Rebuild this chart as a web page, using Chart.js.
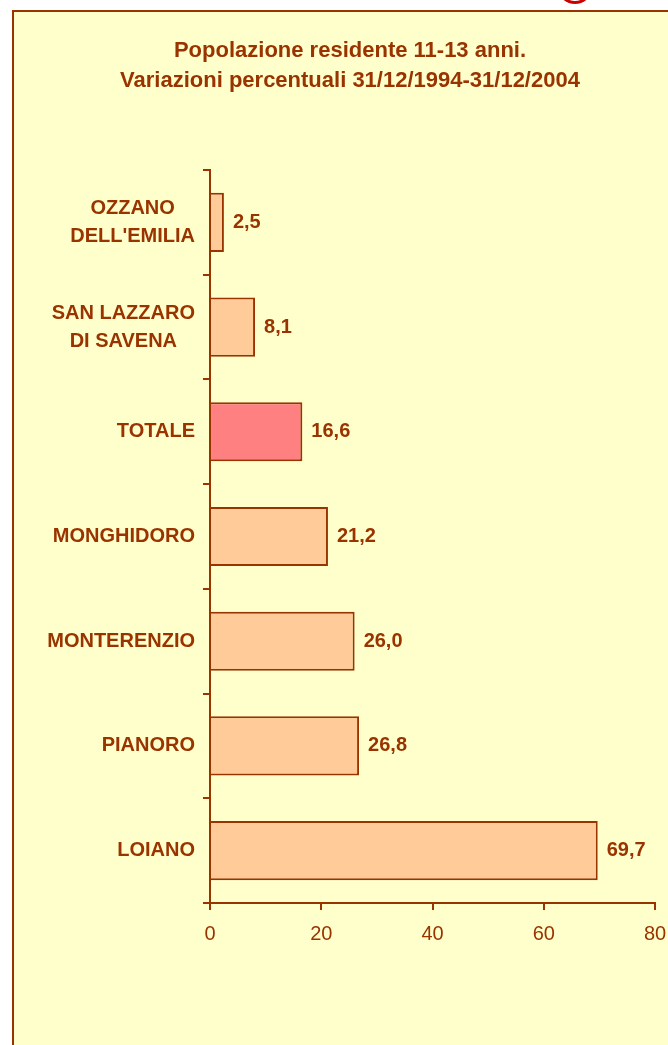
<!DOCTYPE html>
<html>
<head>
<meta charset="utf-8">
<script src="https://cdn.jsdelivr.net/npm/chart.js@4.4.1/dist/chart.umd.min.js"></script>
<style>
  html, body { margin: 0; padding: 0; background: #ffffff; overflow: hidden; }
  #cornice { position: absolute; left: 12px; top: 10px; width: 700px; height: 1100px; background: #FFFFCC; border: 2px solid #993300; }
  #logo { position: absolute; left: 557px; top: -32px; width: 30px; height: 30px; border: 3px solid #CC0000; border-radius: 50%; }
  #grafico { position: absolute; left: 0; top: 0; }
</style>
</head>
<body>
<div id="cornice"></div>
<div id="logo"></div>
<canvas id="grafico" width="668" height="1045"></canvas>
<script>
// Popolazione 11-13 anni: variazione % 1994-2004 per comune
const comuni = [
    ["OZZANO", "DELL'EMILIA"],
    ["SAN LAZZARO", "DI SAVENA"],
    "TOTALE",
    "MONGHIDORO",
    "MONTERENZIO",
    "PIANORO",
    "LOIANO",
];
const variazioni = [2.5, 8.1, 16.6, 21.2, 26.0, 26.8, 69.7];
const coloriBarre = ["#FFCC99", "#FFCC99", "#FF8080", "#FFCC99", "#FFCC99", "#FFCC99", "#FFCC99"];
const titolo = ["Popolazione residente 11-13 anni.", "Variazioni percentuali 31/12/1994-31/12/2004"];
const scalaX = { min: 0, max: 80, passo: 20 };

const MARRONE = "#993300";
const FONT = "Arial, 'Liberation Sans', sans-serif";

// nomi dei comuni: blocco allineato a destra, righe centrate tra loro
const etichetteComuni = {
    id: "etichetteComuni",
    afterDraw(chart) {
        const ctx = chart.ctx;
        const asseY = chart.scales.y;
        const destra = asseY.right - 15;
        ctx.save();
        ctx.font = "bold 20px " + FONT;
        ctx.fillStyle = MARRONE;
        ctx.textAlign = "center";
        ctx.textBaseline = "middle";
        chart.data.labels.forEach((lab, i) => {
            const righe = [].concat(lab);
            const larghezza = Math.max(...righe.map((r) => ctx.measureText(r).width));
            const cx = destra - larghezza / 2;
            const cy = asseY.getPixelForTick(i);
            righe.forEach((r, k) => {
                ctx.fillText(r, cx, cy + (k - (righe.length - 1) / 2) * 28);
            });
        });
        ctx.restore();
    },
};

// valore in fondo ad ogni barra
const valoriBarre = {
    id: "valoriBarre",
    afterDatasetsDraw(chart) {
        const ctx = chart.ctx;
        const meta = chart.getDatasetMeta(0);
        ctx.save();
        ctx.font = "bold 20px " + FONT;
        ctx.fillStyle = MARRONE;
        ctx.textAlign = "left";
        ctx.textBaseline = "middle";
        meta.data.forEach((barra, i) => {
            const testo = variazioni[i].toFixed(1).replace(".", ",");
            ctx.fillText(testo, barra.x + 9, barra.y);
        });
        ctx.restore();
    },
};

new Chart(document.getElementById("grafico"), {
    type: "bar",
    data: {
        labels: comuni,
        datasets: [
            {
                data: variazioni,
                backgroundColor: coloriBarre,
                borderColor: MARRONE,
                borderWidth: 2,
                barPercentage: 0.565,
                categoryPercentage: 1,
            },
        ],
    },
    options: {
        indexAxis: "y",
        responsive: false,
        animation: false,
        layout: {
            padding: { left: 45, right: 13, top: 0, bottom: 87 },
        },
        plugins: {
            legend: { display: false },
            tooltip: { enabled: false },
            title: {
                display: true,
                text: titolo,
                color: MARRONE,
                font: { family: FONT, size: 22, weight: "bold", lineHeight: 30 / 22 },
                padding: { top: 36, bottom: 74 },
            },
        },
        scales: {
            x: {
                min: scalaX.min,
                max: scalaX.max,
                ticks: {
                    stepSize: scalaX.passo,
                    color: MARRONE,
                    font: { family: FONT, size: 20 },
                    padding: 12,
                },
                grid: { drawOnChartArea: false, color: MARRONE, lineWidth: 2, tickLength: 7 },
                border: { color: MARRONE, width: 2 },
                afterFit(scale) {
                    // l'etichetta "80" può uscire dall'area, il margine lo decide layout.padding
                    scale.paddingLeft = 0;
                    scale.paddingRight = 0;
                },
            },
            y: {
                ticks: { display: false },
                grid: { drawOnChartArea: false, color: MARRONE, lineWidth: 2, tickLength: 7, offset: true },
                border: { color: MARRONE, width: 2 },
                afterFit(scale) {
                    scale.width = 165;
                },
            },
        },
    },
    plugins: [etichetteComuni, valoriBarre],
});
</script>
</body>
</html>
